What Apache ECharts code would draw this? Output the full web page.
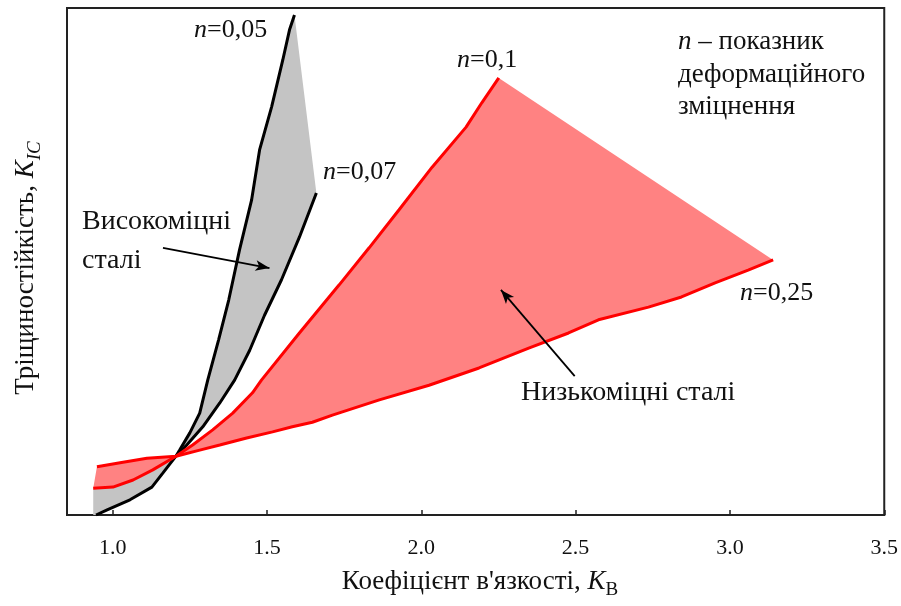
<!DOCTYPE html>
<html>
<head>
<meta charset="utf-8">
<script src="https://cdn.jsdelivr.net/npm/echarts@6/dist/echarts.min.js"></script>
<style>
  html, body { margin: 0; padding: 0; background: #fff; }
  #chart { width: 901px; height: 606px; }
</style>
</head>
<body>
<div id="chart"></div>
<script>
// x tick values (коефіцієнт в'язкості)
var xTicks = [1.0, 1.5, 2.0, 2.5, 3.0, 3.5];

// високоміцні сталі: n=0,05 (від верху до перетину)
var hiN005 = [[1.589,98.6],[1.573,95.7],[1.551,89.7],[1.515,80.5],[1.476,72.0],[1.450,62.1],
  [1.411,52.3],[1.376,42.4],[1.343,34.5],[1.308,26.6],[1.282,20.1],[1.250,16.2],[1.217,12.8],[1.205,11.6]];
// високоміцні сталі: n=0,07 (знизу вгору)
var hiN007 = [[0.946,0],[0.982,1.0],[1.056,3.0],[1.127,5.5],[1.163,8.3],[1.205,11.6],[1.240,13.8],
  [1.292,17.4],[1.347,22.1],[1.395,26.6],[1.444,32.5],[1.492,39.4],[1.547,46.4],[1.605,54.8],[1.660,63.5]];

// низькоміцні сталі: n=0,1
var loN01 = [[0.937,5.3],[1.001,5.5],[1.066,6.9],[1.130,8.9],[1.205,11.6],[1.259,13.8],[1.324,16.8],
  [1.389,20.1],[1.453,24.1],[1.482,26.6],[1.605,35.9],[1.734,45.4],[1.831,52.7],[1.928,60.2],
  [2.035,68.6],[2.145,76.5],[2.196,81.3],[2.251,86.2]];
// низькоміцні сталі: n=0,25
var loN025 = [[0.949,9.5],[1.024,10.3],[1.111,11.2],[1.205,11.6],[1.282,12.8],[1.347,13.8],[1.434,15.2],
  [1.518,16.4],[1.582,17.4],[1.647,18.3],[1.712,19.7],[1.864,22.7],[2.025,25.6],[2.187,29.0],
  [2.348,32.9],[2.477,35.9],[2.574,38.5],[2.736,41.0],[2.843,43.0],[2.952,45.8],[3.059,48.3],[3.140,50.3]];

// області заливки
var grayPoly = hiN005.concat([[0.937,5.3],[0.937,0]]).concat(hiN007);
var redPoly = loN01.concat(loN025.slice().reverse());

var FONT = '"Liberation Serif", "Times New Roman", serif';
var chart = echarts.init(document.getElementById('chart'));

function polygonSeries(points, fill){
  return {
    type: 'custom',
    data: points,
    silent: true,
    renderItem: function(params, api){
      if(params.dataIndex !== 0) return;
      var pts = [];
      for(var i=0; i<points.length; i++){
        pts.push(api.coord(points[i]));
      }
      return { type: 'polygon', shape: { points: pts }, style: { fill: fill, stroke: null } };
    }
  };
}

function lineSeries(data, color){
  return {
    type: 'line',
    data: data,
    showSymbol: false,
    silent: true,
    lineStyle: { color: color, width: 3 },
    z: 3
  };
}

function label(x, y, text, size){
  return {
    type: 'text', x: x, y: y,
    style: {
      text: text, fill: '#111', textVerticalAlign: 'middle',
      font: size + 'px ' + FONT,
      rich: { i: { fontStyle: 'italic', fontSize: size, fontFamily: FONT } }
    }
  };
}

var option = {
  animation: false,
  backgroundColor: '#fff',
  textStyle: { fontFamily: FONT },
  grid: { show: true, left: 67, right: 16, top: 8, bottom: 91, borderColor: '#222', borderWidth: 2 },
  xAxis: {
    type: 'value',
    min: 0.852,
    max: 3.5,
    axisLine: { show: true, lineStyle: { color: '#222', width: 2 } },
    axisTick: { show: true, inside: true, length: 5, lineStyle: { color: '#222', width: 1.5 }, customValues: xTicks },
    axisLabel: {
      customValues: xTicks,
      margin: 22,
      color: '#111',
      fontSize: 22,
      fontFamily: FONT,
      formatter: function(v){ return v.toFixed(1); }
    },
    splitLine: { show: false }
  },
  yAxis: {
    type: 'value',
    min: 0,
    max: 100,
    axisLine: { show: false },
    axisTick: { show: false },
    axisLabel: { show: false },
    splitLine: { show: false }
  },
  series: [
    polygonSeries(grayPoly, '#c4c4c4'),
    polygonSeries(redPoly, '#ff8282'),
    lineSeries(hiN007, '#000'),
    lineSeries(hiN005, '#000'),
    lineSeries(loN025, '#ff0000'),
    lineSeries(loN01, '#ff0000'),
    {
      type: 'line',
      data: [],
      markLine: {
        silent: true,
        symbol: ['none', 'arrow'],
        symbolSize: [8, 14],
        label: { show: false },
        lineStyle: { color: '#000', width: 1.8, type: 'solid' },
        data: [
          [{ coord: [1.163, 52.7] }, { coord: [1.508, 48.7] }],
          [{ coord: [2.497, 27.4] }, { coord: [2.258, 44.4] }]
        ]
      }
    }
  ],
  graphic: [
    label(194, 30, '{i|n}=0,05', 26),
    label(323, 172, '{i|n}=0,07', 26),
    label(457, 60, '{i|n}=0,1', 26),
    label(740, 293, '{i|n}=0,25', 26),
    label(678, 42, '{i|n} – показник', 27),
    label(678, 75, 'деформаційного', 27),
    label(678, 107, 'зміцнення', 27),
    label(82, 222, 'Високоміцні', 28),
    label(82, 261, 'сталі', 28),
    label(521, 393, 'Низькоміцні сталі', 28),
    { type: 'text', x: 480, y: 582, style: {
        text: '{t|Коефіцієнт в\'язкості, }{i|K}{s|B}',
        textAlign: 'center', textVerticalAlign: 'middle', fill: '#111',
        rich: {
          t: { fontSize: 27, fontFamily: FONT, lineHeight: 36 },
          i: { fontSize: 27, fontFamily: FONT, fontStyle: 'italic', lineHeight: 36 },
          s: { fontSize: 19, fontFamily: FONT, lineHeight: 16, verticalAlign: 'bottom' }
        } } },
    { type: 'text', x: 26, y: 268, rotation: Math.PI / 2, style: {
        text: '{t|Тріщиностійкість, }{i|K}{s|IC}',
        textAlign: 'center', textVerticalAlign: 'middle', fill: '#111',
        rich: {
          t: { fontSize: 27, fontFamily: FONT, lineHeight: 36 },
          i: { fontSize: 27, fontFamily: FONT, fontStyle: 'italic', lineHeight: 36 },
          s: { fontSize: 19, fontFamily: FONT, fontStyle: 'italic', lineHeight: 16, verticalAlign: 'bottom' }
        } } }
  ]
};
chart.setOption(option);
</script>
</body>
</html>
